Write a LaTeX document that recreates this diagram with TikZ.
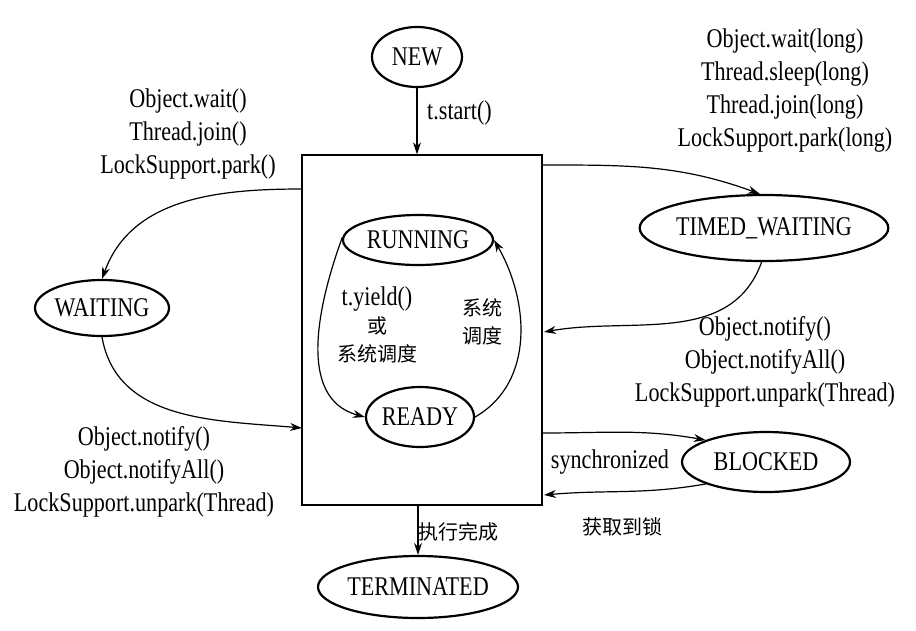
\documentclass[tikz,border=0pt]{standalone}
\usepackage{fontspec}
\setmainfont{Liberation Serif}[FakeStretch=0.82]
\newfontfamily\cjk{Noto Sans CJK SC}
\usepackage{tikz}
\usetikzlibrary{arrows.meta,shapes.geometric,calc}

\begin{document}
\begin{tikzpicture}[x=1pt,y=-1pt,
    state/.style={ellipse,draw,line width=2.2pt,inner sep=0pt,font=\fontsize{27}{33}\selectfont},
    lbl/.style={align=center,inner sep=0pt,font=\fontsize{27}{33}\selectfont},
    zh/.style={align=center,inner sep=0pt,font=\cjk\fontsize{20}{28}\selectfont},
    arr/.style={line width=1.2pt,-{Stealth[length=12pt,width=8pt]}}]
      \useasboundingbox (0,0) rectangle (916,630);
      % states
      \node[state,minimum width=90,minimum height=60](NEW) at (417,57){NEW};
      \node[draw,line width=1.4pt,minimum width=240,minimum height=350](box) at (422,330){};
      \node[state,minimum width=150,minimum height=50](RUN) at (418,240){RUNNING};
      \node[state,minimum width=108,minimum height=60](READY) at (420,417){READY};
      \node[state,minimum width=134,minimum height=56](WAIT) at (102,308){WAITING};
      \node[state,minimum width=218,minimum height=66](TW) at (764,228){TIMED\_WAITING};
      \node[state,minimum width=168,minimum height=60](BLK) at (766,462){BLOCKED};
      \node[state,minimum width=184,minimum height=62](TERM) at (418,587){TERMINATED};
      % points on the box edges
      \coordinate(bW1) at (302,189);
      \coordinate(bW2) at (302,428);
      \coordinate(bE1) at (542,165);
      \coordinate(bE2) at (544,332);
      \coordinate(bE3) at (542,433);
      \coordinate(bE4) at (544,495);
      % connectors
      \draw[arr](NEW.south)--(NEW.south|-box.north);
      \draw[arr](box.south-|TERM.north)--(TERM.north);
      \draw[arr](bW1)to[out=180,in=70](WAIT.north);
      \draw[arr](WAIT.south)to[out=-80,in=175](bW2);
      \draw[arr](bE1)to[out=0,in=160](TW.97);
      \draw[arr](TW.266)to[out=-110,in=10](bE2);
      \draw[arr](bE3)to[out=0,in=170](BLK.160);
      \draw[arr](BLK.200)to[out=-170,in=5](bE4);
      \draw[arr](RUN.178)to[out=250,in=165](READY.west);
      \draw[arr](READY.east)to[out=30,in=-60](RUN.east);
      % labels
      \node[lbl,anchor=west](lStart) at (427,113){t.start()};
      \node[lbl](lWait) at (188,134){Object.wait()\\Thread.join()\\LockSupport.park()};
      \node[lbl](lNotifyW) at (144,472){Object.notify()\\Object.notifyAll()\\LockSupport.unpark(Thread)};
      \node[lbl](lTimed) at (785,91){Object.wait(long)\\Thread.sleep(long)\\Thread.join(long)\\LockSupport.park(long)};
      \node[lbl](lNotifyT) at (765,362){Object.notify()\\Object.notifyAll()\\LockSupport.unpark(Thread)};
      \node[lbl](lSync) at (610,462){synchronized};
      \node[zh](lLock) at (622,527){获取到锁};
      \node[zh,anchor=west](lDone) at (418,532){执行完成};
      \node[zh](lSched) at (482,322){系统\\调度};
      \node[zh](lYield) at (377,325){{\rmfamily\fontsize{27}{28}\selectfont t.yield()}\\或\\系统调度};
    \end{tikzpicture}
\end{document}
